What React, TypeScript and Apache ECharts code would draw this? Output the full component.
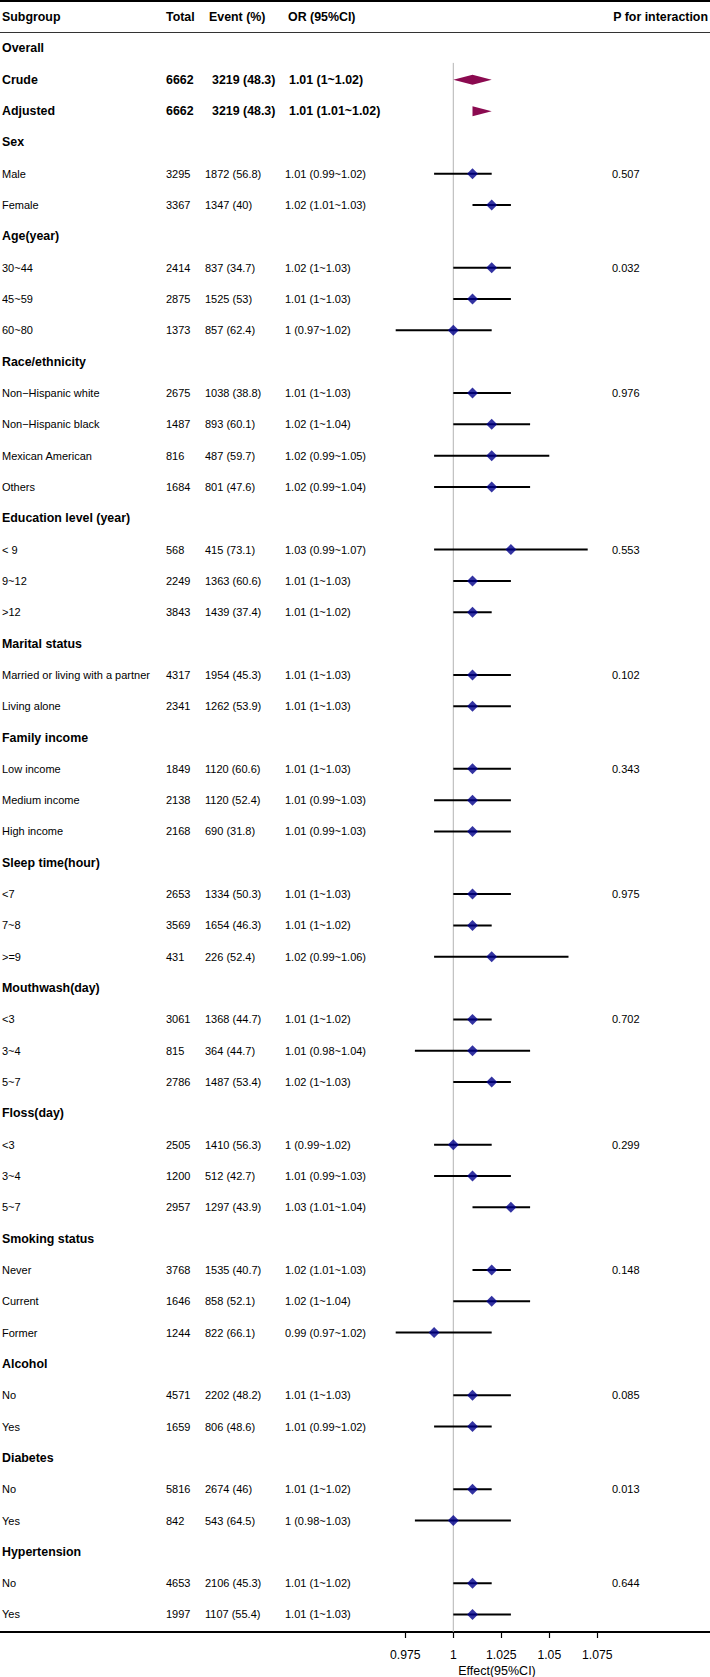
import React, { useEffect, useRef } from "react";
import * as echarts from "echarts";

const labels = ["Overall","Crude","Adjusted","Sex","Male","Female","Age(year)","30~44","45~59","60~80","Race/ethnicity","Non−Hispanic white","Non−Hispanic black","Mexican American","Others","Education level (year)","< 9","9~12",">12","Marital status","Married or living with a partner","Living alone","Family income","Low income","Medium income","High income","Sleep time(hour)","<7","7~8",">=9","Mouthwash(day)","<3","3~4","5~7","Floss(day)","<3","3~4","5~7","Smoking status","Never","Current","Former","Alcohol","No","Yes","Diabetes","No","Yes","Hypertension","No","Yes"];

const totals = [null,6662,6662,null,3295,3367,null,2414,2875,1373,null,2675,1487,816,1684,null,568,2249,3843,null,4317,2341,null,1849,2138,2168,null,2653,3569,431,null,3061,815,2786,null,2505,1200,2957,null,3768,1646,1244,null,4571,1659,null,5816,842,null,4653,1997];

const eventN = [null,3219,3219,null,1872,1347,null,837,1525,857,null,1038,893,487,801,null,415,1363,1439,null,1954,1262,null,1120,1120,690,null,1334,1654,226,null,1368,364,1487,null,1410,512,1297,null,1535,858,822,null,2202,806,null,2674,543,null,2106,1107];

const eventPct = [null,48.3,48.3,null,56.8,40,null,34.7,53,62.4,null,38.8,60.1,59.7,47.6,null,73.1,60.6,37.4,null,45.3,53.9,null,60.6,52.4,31.8,null,50.3,46.3,52.4,null,44.7,44.7,53.4,null,56.3,42.7,43.9,null,40.7,52.1,66.1,null,48.2,48.6,null,46,64.5,null,45.3,55.4];

const est = [null,1.01,1.01,null,1.01,1.02,null,1.02,1.01,1,null,1.01,1.02,1.02,1.02,null,1.03,1.01,1.01,null,1.01,1.01,null,1.01,1.01,1.01,null,1.01,1.01,1.02,null,1.01,1.01,1.02,null,1,1.01,1.03,null,1.02,1.02,0.99,null,1.01,1.01,null,1.01,1,null,1.01,1.01];

const lower = [null,1,1.01,null,0.99,1.01,null,1,1,0.97,null,1,1,0.99,0.99,null,0.99,1,1,null,1,1,null,1,0.99,0.99,null,1,1,0.99,null,1,0.98,1,null,0.99,0.99,1.01,null,1.01,1,0.97,null,1,0.99,null,1,0.98,null,1,1];

const upper = [null,1.02,1.02,null,1.02,1.03,null,1.03,1.03,1.02,null,1.03,1.04,1.05,1.04,null,1.07,1.03,1.02,null,1.03,1.03,null,1.03,1.03,1.03,null,1.03,1.02,1.06,null,1.02,1.04,1.03,null,1.02,1.03,1.04,null,1.03,1.04,1.02,null,1.03,1.02,null,1.02,1.03,null,1.02,1.03];

const pInteraction = [null,null,null,null,"0.507",null,null,"0.032",null,null,null,"0.976",null,null,null,null,"0.553",null,null,null,"0.102",null,null,"0.343",null,null,null,"0.975",null,null,null,"0.702",null,null,null,"0.299",null,null,null,"0.148",null,null,null,"0.085",null,null,"0.013",null,null,"0.644",null];

const overallRows = [1, 2];
const headers = ["Subgroup", "Total", "Event (%)", "OR (95%CI)", "P for interaction"];
const xTicks = [0.975, 1, 1.025, 1.05, 1.075];
const xTitle = "Effect(95%CI)";

const FONT = "'Liberation Sans', Arial, Helvetica, sans-serif";
const W = 710;
const H = 1677;

export default function App() {
  const ref = useRef<HTMLDivElement>(null);
  useEffect(() => {
    const chart = echarts.init(ref.current as HTMLDivElement, null, { renderer: "svg" });
    const n = labels.length;
    const isBold = (i: number) => totals[i] === null || overallRows.includes(i);

    const ciData: any[] = [];
    const ptData: any[] = [];
    const ovData: any[] = [];
    for (let i = 0; i < n; i++) {
      if (est[i] === null) continue;
      if (overallRows.includes(i)) {
        ovData.push([lower[i], est[i], upper[i], i]);
      } else {
        ciData.push([lower[i], upper[i], i]);
        ptData.push([est[i], i]);
      }
    }

    const txt = (text: string, x: number, y: number, bold: boolean, align = "left", size?: number) => ({
      type: "text",
      style: {
        text,
        x,
        y,
        fill: "#000",
        fontFamily: FONT,
        fontSize: size ?? (bold ? 12.4 : 11),
        fontWeight: bold ? "bold" : "normal",
        align,
        verticalAlign: "middle",
        textAlign: align,
        textVerticalAlign: "middle",
      },
    });

    const option: any = {
      animation: false,
      grid: { left: 0, right: 0, top: 0, height: 1632, containLabel: false },
      xAxis: {
        type: "value",
        min: 0.76391,
        max: 1.1337,
        splitLine: { show: false },
        axisLine: { show: true, onZero: false, lineStyle: { color: "#000", width: 2 } },
        axisTick: { show: true, customValues: xTicks, length: 6, lineStyle: { color: "#000", width: 1.2 } },
        axisLabel: {
          show: true,
          customValues: xTicks,
          color: "#000",
          fontFamily: FONT,
          fontSize: 12.2,
          margin: 17,
        },
      },
      yAxis: {
        type: "value",
        inverse: true,
        min: -1.5485,
        max: 50.56,
        show: false,
      },
      graphic: [
        { type: "line", shape: { x1: 0, y1: 1, x2: W, y2: 1 }, style: { stroke: "#000", lineWidth: 2.2 } },
        { type: "line", shape: { x1: 0, y1: 32.5, x2: W, y2: 32.5 }, style: { stroke: "#333", lineWidth: 1.2 } },
        txt(headers[0], 2, 17, true),
        txt(headers[1], 166, 17, true),
        txt(headers[2], 209, 17, true),
        txt(headers[3], 288, 17, true),
        txt(headers[4], 708, 17, true, "right"),
        txt(xTitle, 497, 1671, false, "center", 12.5),
      ],
      series: [
        {
          type: "line",
          data: [[1, 0.46], [1, 50.56]],
          symbol: "none",
          silent: true,
          lineStyle: { color: "#b3b3b3", width: 1 },
          z: 1,
        },
        {
          type: "custom",
          data: ciData,
          encode: { x: [0, 1], y: 2 },
          silent: true,
          z: 2,
          renderItem: (params: any, api: any) => {
            const p1 = api.coord([api.value(0), api.value(2)]);
            const p2 = api.coord([api.value(1), api.value(2)]);
            return {
              type: "line",
              shape: { x1: p1[0], y1: p1[1], x2: p2[0], y2: p2[1] },
              style: { stroke: "#000", lineWidth: 2 },
            };
          },
        },
        {
          type: "scatter",
          data: ptData,
          symbol: "diamond",
          symbolSize: [11, 11],
          itemStyle: { color: "#00008B" },
          silent: true,
          z: 3,
        },
        {
          type: "custom",
          data: ovData,
          encode: { x: [0, 1, 2], y: 3 },
          silent: true,
          z: 3,
          renderItem: (params: any, api: any) => {
            const r = api.value(3);
            const l = api.coord([api.value(0), r]);
            const c = api.coord([api.value(1), r]);
            const u = api.coord([api.value(2), r]);
            const h = 5;
            return {
              type: "polygon",
              shape: { points: [[l[0], c[1]], [c[0], c[1] - h], [u[0], c[1]], [c[0], c[1] + h]] },
              style: { fill: "#8B0A50" },
            };
          },
        },
        {
          type: "custom",
          data: labels.map((_, i) => [1, i]),
          encode: { x: 0, y: 1 },
          silent: true,
          z: 4,
          renderItem: (params: any, api: any) => {
            const i = params.dataIndex;
            const y = api.coord([1, i])[1];
            const b = isBold(i);
            const children: any[] = [txt(labels[i], 2, y, b)];
            if (totals[i] !== null) {
              children.push(txt(String(totals[i]), 166, y, b));
              children.push(txt(`${eventN[i]} (${eventPct[i]})`, b ? 212 : 205, y, b));
              children.push(txt(`${est[i]} (${lower[i]}~${upper[i]})`, b ? 289 : 285, y, b));
            }
            if (pInteraction[i] !== null) {
              children.push(txt(String(pInteraction[i]), 612, y, false));
            }
            return { type: "group", children };
          },
        },
      ],
    };
    chart.setOption(option);
    return () => chart.dispose();
  }, []);
  return <div ref={ref} style={{ position: "absolute", left: 0, top: 0, width: W, height: H }} />;
}
